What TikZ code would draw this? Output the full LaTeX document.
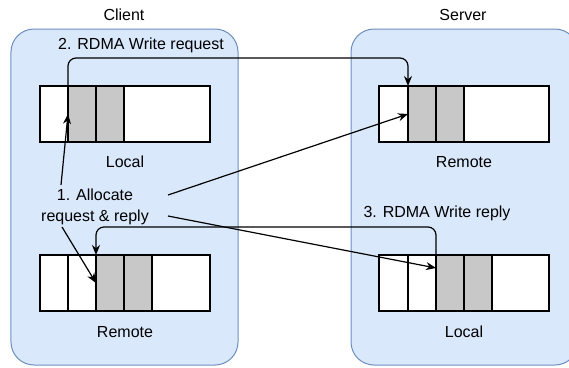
\documentclass[tikz,border=0pt]{standalone}
\usepackage{fontspec}
\setmainfont{Liberation Sans}
\usetikzlibrary{arrows.meta,positioning}
\definecolor{boxfill}{HTML}{DAE8FC}
\definecolor{boxline}{HTML}{6C8EBF}
\definecolor{slot}{HTML}{C8C8C8}
\begin{document}
\begin{tikzpicture}[x=1bp, y=-1bp, line width=1.2bp, font=\fontsize{16bp}{21bp}\selectfont]
\tikzstyle{host} = [draw=boxline, fill=boxfill, line width=1bp, rounded corners=23bp, minimum width=227bp, minimum height=336bp]
\tikzstyle{buf} = [draw, fill=white, minimum width=170bp, minimum height=56bp, inner sep=0pt, outer sep=0pt]
\tikzstyle{cell} = [draw, fill=white, minimum width=28bp, minimum height=56bp, inner sep=0pt, outer sep=0pt]
\tikzstyle{used} = [cell, fill=slot]
\tikzstyle{arr} = [-{Stealth[length=10bp,width=8bp]}]
\clip (0,0) rectangle (569,367);

\node[host] (client) at (124.5,197) {};
\node[host] (server) at (464.5,197) {};
\node (clientname) at (124,15) {Client};
\node (servername) at (463,15) {Server};

\node[buf] (cl) at (125,114) {};
\node[used] (cl1) at (82,114) {};
\node[used, right=0pt of cl1] (cl2) {};
\node (cllabel) at (125,162) {Local};

\node[buf] (cr) at (125,283) {};
\node[cell] (cr0) at (82,283) {};
\node[used, right=0pt of cr0] (cr1) {};
\node[used, right=0pt of cr1] (cr2) {};
\node (crlabel) at (125,332) {Remote};

\node[buf] (sr) at (464,114) {};
\node[used] (sr1) at (422,114) {};
\node[used, right=0pt of sr1] (sr2) {};
\node (srlabel) at (464,162) {Remote};

\node[buf] (sl) at (464,283) {};
\node[cell] (sl0) at (422,283) {};
\node[used, right=0pt of sl0] (sl1) {};
\node[used, right=0pt of sl1] (sl2) {};
\node (sllabel) at (464,332) {Local};

\node[align=center] (alloc) at (95,207) {1. Allocate\\request \& reply};
\node (req) at (141,45) {2. RDMA Write request};
\node (rep) at (437,213) {3. RDMA Write reply};

\draw[arr] ([shift={(-34,-22)}]alloc.center) -- (cl1.west);
\draw[arr] ([shift={(73,-12)}]alloc.center) -- (sr1.west);
\draw[arr] ([shift={(-33,20)}]alloc.center) -- (cr1.west);
\draw[arr] ([shift={(73,9)}]alloc.center) -- ([yshift=15bp]sl1.west);

\draw[arr, rounded corners=8bp] (cl1.west) -- ++(0,-56) -| (sr1.north west);
\draw[arr, rounded corners=8bp] (sl1.north west) -- ++(0,-28) -| (cr1.north west);
\end{tikzpicture}
\end{document}
